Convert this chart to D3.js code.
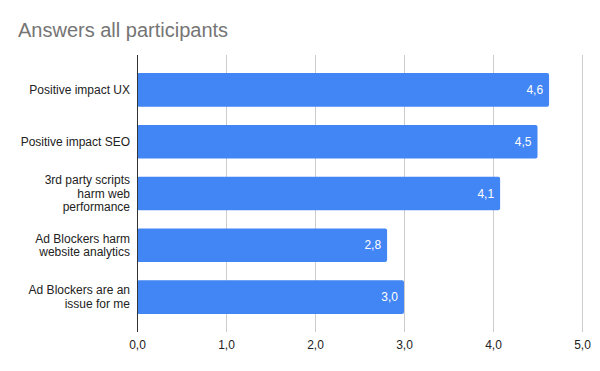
<!DOCTYPE html>
<html>
<head>
<meta charset="utf-8">
<script src="https://cdn.jsdelivr.net/npm/d3@7"></script>
<style>
  body { margin: 0; background: #fff; }
  svg { font-family: Arial, "Liberation Sans", sans-serif; }
</style>
</head>
<body>
<svg id="chart" width="600" height="371"></svg>
<script>
const categories = [
  ['Positive impact UX'],
  ['Positive impact SEO'],
  ['3rd party scripts', 'harm web', 'performance'],
  ['Ad Blockers harm', 'website analytics'],
  ['Ad Blockers are an', 'issue for me']
]
const values = [4.63, 4.5, 4.08, 2.81, 3.0]
const xTicks = [0, 1, 2, 3, 4, 5]

const svg = d3.select('#chart')
const margin = { top: 55, right: 18, bottom: 39, left: 137 }
const width = 582 - margin.left
const height = 332 - margin.top

const fmt = v => d3.format('.1f')(v).replace('.', ',')

svg.append('text')
  .attr('x', 18)
  .attr('y', 37)
  .attr('fill', '#757575')
  .attr('font-size', '20px')
  .text('Answers all participants')

const g = svg.append('g')
  .attr('transform', 'translate(' + margin.left + ',' + margin.top + ')')

const x = d3.scaleLinear().domain([0, 5]).range([0, width])
const y = d3.scaleBand()
  .domain(d3.range(categories.length))
  .range([0, height])
  .paddingInner(0.35)
  .paddingOuter(0.35)

// gridlines + tick labels
const xAxis = g.append('g')
  .attr('transform', 'translate(0,' + height + ')')
  .call(d3.axisBottom(x).tickValues(xTicks).tickSize(height).tickFormat(fmt))
  .attr('transform', 'translate(0,0)')
xAxis.select('.domain').remove()
xAxis.selectAll('.tick line').attr('stroke', '#cccccc')
xAxis.selectAll('.tick text')
  .attr('y', height + 17)
  .attr('dy', 0)
  .attr('fill', '#222')
  .attr('font-size', '12px')
  .attr('font-family', 'Arial, "Liberation Sans", sans-serif')

// bars
g.selectAll('.bar')
  .data(values)
  .enter().append('rect')
  .attr('class', 'bar')
  .attr('x', x(0))
  .attr('y', (d, i) => y(i))
  .attr('width', d => x(d) - x(0))
  .attr('height', y.bandwidth())
  .attr('rx', 2)
  .attr('fill', '#4285f4')

// value labels
g.selectAll('.val')
  .data(values)
  .enter().append('text')
  .attr('class', 'val')
  .attr('x', d => x(d) - 6)
  .attr('y', (d, i) => y(i) + y.bandwidth() / 2 + 4)
  .attr('text-anchor', 'end')
  .attr('fill', '#fff')
  .attr('font-size', '12px')
  .text(d => fmt(d))

// vertical axis line
g.append('line')
  .attr('x1', 0.5).attr('x2', 0.5)
  .attr('y1', 0).attr('y2', height)
  .attr('stroke', '#333')

// category labels
const lineH = 13.5
const lab = g.selectAll('.cat')
  .data(categories)
  .enter().append('text')
  .attr('class', 'cat')
  .attr('text-anchor', 'end')
  .attr('fill', '#222')
  .attr('font-size', '12px')
lab.each(function (lines, i) {
  const cy = y(i) + y.bandwidth() / 2
  const y0 = cy - (lines.length - 1) * lineH / 2 + 4
  d3.select(this).selectAll('tspan')
    .data(lines)
    .enter().append('tspan')
    .attr('x', -7)
    .attr('y', (d, j) => y0 + j * lineH)
    .text(d => d)
})
</script>
</body>
</html>
